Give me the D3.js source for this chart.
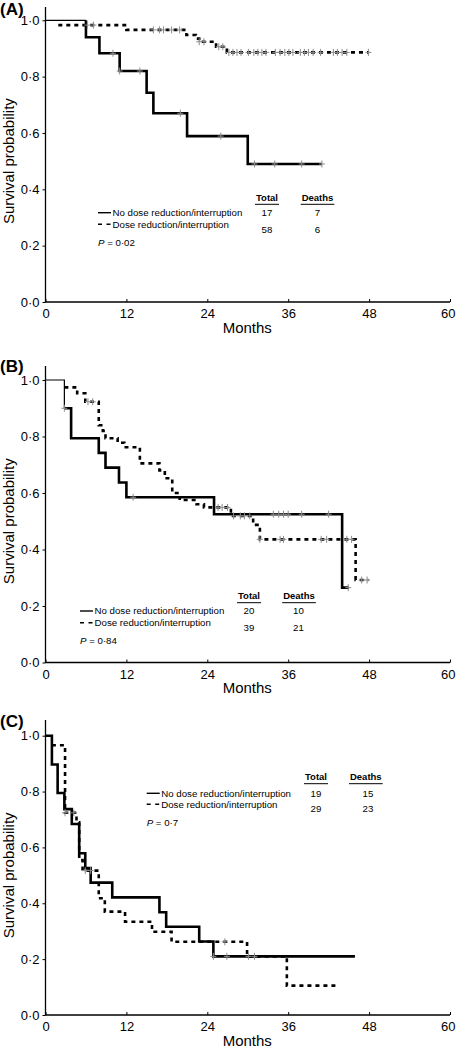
<!DOCTYPE html>
<html><head><meta charset="utf-8">
<script src="https://cdn.jsdelivr.net/npm/d3@7"></script>
<style>
html,body{margin:0;padding:0;background:#fff;}
svg{display:block;}
</style></head>
<body>
<svg id="chart" width="456" height="1050"></svg>
<script>
// ---------------- DATA ----------------
const xTickValues = [0, 12, 24, 36, 48, 60];
const yTickValues = [0, 0.2, 0.4, 0.6, 0.8, 1.0];
const yTickLabels = ["0·0", "0·2", "0·4", "0·6", "0·8", "1·0"];
const seriesNames = ["No dose reduction/interruption", "Dose reduction/interruption"];
const panelLabels = ["(A)", "(B)", "(C)"];
const totals = [[17, 58], [20, 39], [19, 29]];
const deaths = [[7, 6], [10, 21], [15, 23]];
const pValues = ["0·02", "0·84", "0·7"];

// Panel A
const A_solid_t = [6, 8, 11, 15, 16, 21, 30];
const A_solid_s = [0.94, 0.883, 0.82, 0.743, 0.67, 0.589, 0.49];
const A_solid_end = 41;
const A_solid_cens = [10, 11, 14, 20, 26, 31, 34, 38, 41];
const A_dash_t = [1.9, 12, 20.9, 22.3, 22.8, 25.3, 26.9];
const A_dash_s = [0.983, 0.966, 0.948, 0.935, 0.924, 0.906, 0.886];
const A_dash_end = 48;
const A_dash_cens = [6.2, 7.1, 16, 16.9, 17.5, 18.7, 19.9, 22.8, 23.5, 25.7, 26.3,
  27.2, 27.8, 28.4, 29.0, 30.1, 30.9, 31.5, 32.1, 32.7, 34.1, 34.8, 35.5, 36.1, 36.7,
  37.8, 38.4, 39.0, 39.7, 40.8, 42.7, 43.3, 44.0, 44.7, 47.9];

// Panel B
const B_solid_t = [2.8, 3.8, 7.9, 8.9, 10.9, 12, 25, 44];
const B_solid_s = [0.90, 0.794, 0.742, 0.69, 0.637, 0.585, 0.525, 0.265];
const B_solid_end = 45;
const B_solid_cens = [2.8, 13, 33.8, 34.6, 35.3, 36.0, 38.0, 42.0, 44.9];
const B_dash_t = [2.8, 4.7, 5.9, 7.9, 8.5, 8.9, 10.7, 11.7, 14, 16.9, 17.7, 18.8, 19.9, 22.4, 23.5, 27.5, 30.8, 31.8, 46];
const B_dash_s = [0.974, 0.953, 0.923, 0.84, 0.82, 0.794, 0.778, 0.762, 0.705, 0.68, 0.652, 0.60, 0.575, 0.56, 0.549, 0.519, 0.487, 0.436, 0.292];
const B_dash_end = 47.9;
const B_dash_cens = [6.3, 7.0, 25.6, 26.2, 27.0, 27.9, 28.9, 29.5, 30.3, 31.8, 34.8, 35.3, 40.9, 41.7, 44.7, 45.4, 46.9, 47.7];

// Panel C
const C_solid_t = [0.95, 1.8, 2.8, 3.9, 5.0, 5.9, 6.7, 9.9, 16.9, 17.9, 22.8, 24.9];
const C_solid_s = [0.897, 0.795, 0.737, 0.684, 0.579, 0.526, 0.474, 0.421, 0.368, 0.316, 0.263, 0.21];
const C_solid_end = 45.9;
const C_solid_cens = [24.9, 26.9];
const C_dash_t = [0.95, 2.9, 4.6, 5.0, 5.5, 7.9, 8.8, 11.8, 15.8, 18.7, 29.9, 35.8];
const C_dash_s = [0.966, 0.724, 0.69, 0.555, 0.517, 0.418, 0.37, 0.334, 0.298, 0.262, 0.21, 0.105];
const C_dash_end = 43;
const C_dash_cens = [2.9, 4.2, 5.9, 6.7, 26.6, 30.1, 31];

// ---------------- LAYOUT ----------------
const FONT = "'Liberation Sans', Arial, Helvetica, sans-serif";
const X0 = 45.5, X1 = 450;
const panels = [
  {yTop: 20.3, yBot: 302, axTop: 7, labelY: 15, thin: "h",
   leg: {x: 98, y1: 212.7, y2: 224.3, headY: 197.3, colT: 267, colD: 317.5, numT: 267, numD: 317.5, numY2: 229.3, pY: 242.7},
   solid: [A_solid_t, A_solid_s, A_solid_end, A_solid_cens], dash: [A_dash_t, A_dash_s, A_dash_end, A_dash_cens]},
  {yTop: 380, yBot: 662.5, axTop: 366, labelY: 372, thin: "hv",
   leg: {x: 80, y1: 611, y2: 622.7, headY: 595.7, colT: 249, colD: 299, numT: 249, numD: 298.5, numY2: 627.7, pY: 641},
   solid: [B_solid_t, B_solid_s, B_solid_end, B_solid_cens], dash: [B_dash_t, B_dash_s, B_dash_end, B_dash_cens]},
  {yTop: 735.7, yBot: 1015, axTop: 720, labelY: 727, thin: null,
   leg: {x: 146.7, y1: 793.3, y2: 804.3, headY: 776.7, colT: 316, colD: 365.8, numT: 316, numD: 368, numY2: 809, pY: 822.7},
   solid: [C_solid_t, C_solid_s, C_solid_end, C_solid_cens], dash: [C_dash_t, C_dash_s, C_dash_end, C_dash_cens]}
];

const svg = d3.select("#chart");
const x = d3.scaleLinear().domain([0, 60]).range([X0, X1]);

function stepPoints(ts, ss, end) {
  const pts = [{t: 0, s: 1}];
  ts.forEach((t, i) => pts.push({t: t, s: ss[i]}));
  pts.push({t: end, s: ss[ss.length - 1]});
  return pts;
}
function valueAt(ts, ss, t) {
  let v = 1;
  ts.forEach((tt, i) => { if (tt <= t + 1e-9) v = ss[i]; });
  return v;
}

panels.forEach((p, pi) => {
  const g = svg.append("g");
  const y = d3.scaleLinear().domain([0, 1]).range([p.yBot, p.yTop]);
  const line = d3.line().x(d => x(d.t)).y(d => y(d.s)).curve(d3.curveStepAfter);

  // axes
  const yAxis = d3.axisLeft(y).tickValues(yTickValues).tickFormat((d, i) => yTickLabels[i]).tickSize(3).tickPadding(3);
  const gy = g.append("g").attr("transform", `translate(${X0},0)`).call(yAxis);
  gy.select(".domain").remove();
  gy.selectAll("line").attr("stroke", "#000").attr("stroke-width", 1);
  gy.selectAll("text").attr("font-family", FONT).attr("font-size", 13).attr("fill", "#000");
  g.append("line").attr("x1", X0).attr("x2", X0).attr("y1", p.axTop).attr("y2", p.yBot + 0.5)
    .attr("stroke", "#000").attr("stroke-width", 1.3);

  const xAxis = d3.axisBottom(x).tickValues(xTickValues).tickFormat(d3.format("d")).tickSize(-3).tickPadding(7);
  const gx = g.append("g").attr("transform", `translate(0,${p.yBot})`).call(xAxis);
  gx.select(".domain").remove();
  gx.selectAll("line").attr("stroke", "#000").attr("stroke-width", 1);
  gx.selectAll("text").attr("font-family", FONT).attr("font-size", 13).attr("fill", "#000");
  // keep the last label ("60") inside the picture
  gx.selectAll(".tick").filter(d => d === 60).select("text").attr("text-anchor", "end").attr("x", 455 - X1);
  g.append("line").attr("x1", X0).attr("x2", X1).attr("y1", p.yBot).attr("y2", p.yBot)
    .attr("stroke", "#000").attr("stroke-width", 1.3);

  // titles
  g.append("text").attr("x", (X0 + X1) / 2 - 0.5).attr("y", p.yBot + 30.5).attr("text-anchor", "middle")
    .attr("font-family", FONT).attr("font-size", 15).text("Months");
  g.append("text").attr("transform", `translate(14,${(p.yTop + p.yBot) / 2}) rotate(-90)`)
    .attr("text-anchor", "middle").attr("font-family", FONT).attr("font-size", 15).text("Survival probability");
  g.append("text").attr("x", 0).attr("y", p.labelY).attr("font-family", FONT).attr("font-size", 17)
    .attr("font-weight", "bold").text(panelLabels[pi]);

  // dashed curve (drawn first, starting at first drop)
  const [dt, ds, dend, dcens] = p.dash;
  const dpts = stepPoints(dt, ds, dend).slice(1);
  g.append("path").attr("d", line(dpts)).attr("fill", "none").attr("stroke", "#000")
    .attr("stroke-width", 2.6).attr("stroke-dasharray", "4,4");

  // solid curve
  const [st, ss, send, scens] = p.solid;
  const spts = stepPoints(st, ss, send);
  if (p.thin) {
    const thinPts = p.thin === "hv" ? spts.slice(0, 2) : [spts[0], {t: spts[1].t, s: 1}];
    const thinLine = p.thin === "hv" ? line(thinPts) : d3.line().x(d => x(d.t)).y(d => y(d.s))(thinPts);
    g.append("path").attr("d", thinLine).attr("fill", "none").attr("stroke", "#000").attr("stroke-width", 1.2);
    const thick = p.thin === "hv" ? spts.slice(1) : [{t: spts[1].t, s: 1}].concat(spts.slice(1));
    g.append("path").attr("d", line(thick)).attr("fill", "none").attr("stroke", "#000").attr("stroke-width", 2.6);
  } else {
    g.append("path").attr("d", line(spts)).attr("fill", "none").attr("stroke", "#000").attr("stroke-width", 2.6);
  }

  // censor marks
  const cens = dcens.map(t => ({t: t, s: valueAt(dt, ds, t)}))
    .concat(scens.map(t => ({t: t, s: valueAt(st, ss, t)})));
  const cg = g.append("g").attr("stroke", "#8c8c8c").attr("stroke-width", 1);
  cens.forEach(c => {
    const cx = x(c.t), cy = y(c.s);
    cg.append("line").attr("x1", cx - 3).attr("x2", cx + 3).attr("y1", cy).attr("y2", cy);
    cg.append("line").attr("x1", cx).attr("x2", cx).attr("y1", cy - 3.5).attr("y2", cy + 3.5);
  });

  // legend
  const L = p.leg;
  const fs = 9.7;
  g.append("line").attr("x1", L.x).attr("x2", L.x + 13).attr("y1", L.y1).attr("y2", L.y1)
    .attr("stroke", "#000").attr("stroke-width", 1.4);
  g.append("line").attr("x1", L.x).attr("x2", L.x + 13).attr("y1", L.y2).attr("y2", L.y2)
    .attr("stroke", "#000").attr("stroke-width", 1.4).attr("stroke-dasharray", "4,4.5");
  g.append("text").attr("x", L.x + 14.5).attr("y", L.y1).attr("dy", "0.35em").attr("font-family", FONT)
    .attr("font-size", fs).text(seriesNames[0]);
  g.append("text").attr("x", L.x + 14.5).attr("y", L.y2).attr("dy", "0.35em").attr("font-family", FONT)
    .attr("font-size", fs).text(seriesNames[1]);
  [["Total", L.colT], ["Deaths", L.colD]].forEach(([h, cx]) => {
    const t = g.append("text").attr("x", cx).attr("y", L.headY).attr("dy", "0.35em").attr("text-anchor", "middle")
      .attr("font-family", FONT).attr("font-size", 9.5).attr("font-weight", "bold").text(h);
    const w = t.node().getComputedTextLength();
    g.append("line").attr("x1", cx - w / 2 - 1).attr("x2", cx + w / 2 + 1)
      .attr("y1", L.headY + 7).attr("y2", L.headY + 7).attr("stroke", "#000").attr("stroke-width", 1);
  });
  [[totals[pi][0], L.numT, L.y1], [deaths[pi][0], L.numD, L.y1],
   [totals[pi][1], L.numT, L.numY2], [deaths[pi][1], L.numD, L.numY2]].forEach(([v, cx, cy]) => {
    g.append("text").attr("x", cx).attr("y", cy).attr("dy", "0.35em").attr("text-anchor", "middle")
      .attr("font-family", FONT).attr("font-size", fs).text(v);
  });
  const pt = g.append("text").attr("x", L.x).attr("y", L.pY).attr("dy", "0.35em")
    .attr("font-family", FONT).attr("font-size", fs);
  pt.append("tspan").attr("font-style", "italic").text("P");
  pt.append("tspan").text(" = " + pValues[pi]);
});
</script>
</body></html>
